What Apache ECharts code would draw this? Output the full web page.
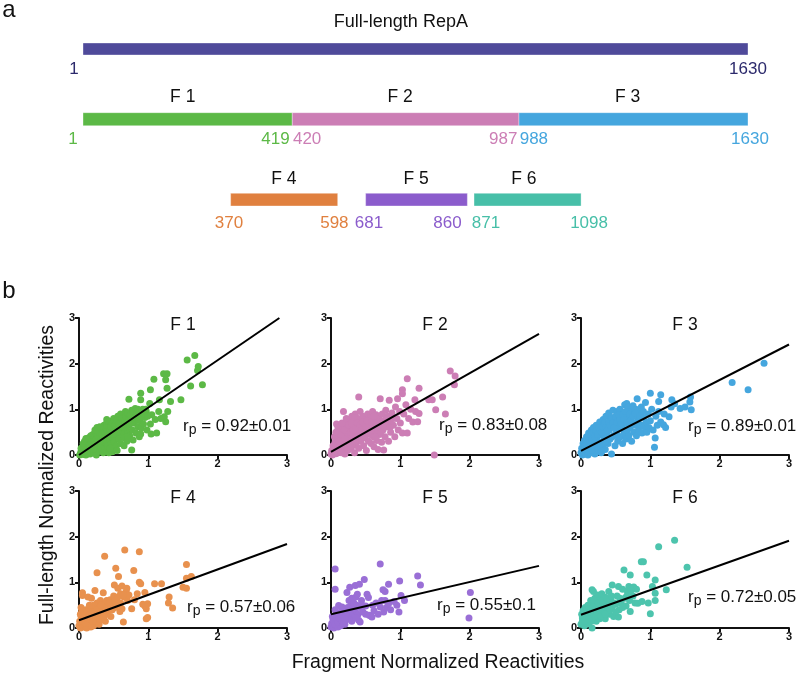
<!DOCTYPE html>
<html><head><meta charset="utf-8">
<script src="https://cdn.jsdelivr.net/npm/echarts@6/dist/echarts.min.js"></script>
<style>html,body{margin:0;padding:0;background:#fff}#c{width:800px;height:677px}</style>
</head><body><div id="c"></div>
<script>
// ---------- Panel a: fragment schematic ----------
var segNames = ['Full-length RepA', 'F 1', 'F 2', 'F 3', 'F 4', 'F 5', 'F 6'];
var segStartResidue = ['1', '1', '420', '988', '370', '681', '871'];
var segEndResidue = ['1630', '419', '987', '1630', '598', '860', '1098'];
var segRow = [0, 1, 1, 1, 2, 2, 2];
// schematic (not-to-scale) extents, in % of the full-length bar
var segDrawStart = [0, 0, 31.47, 65.56, 22.2, 42.5, 58.8];
var segDrawEnd = [100, 31.47, 65.56, 100, 38.3, 57.8, 74.9];
var segNamePos = [47.8, 15.0, 47.7, 81.9, 30.2, 50.1, 66.3];
var segStartLabelPos = [-1.35, -1.5, 33.7, 67.8, 21.95, 43.0, 60.6];
var segEndLabelPos = [100, 28.95, 63.2, 100.3, 37.8, 54.8, 76.1];
var segColors = ['#4f4a9a', '#5cb946', '#cc7eb5', '#45a6de', '#e0803f', '#8b5ccc', '#47bfa8'];
var segLabelColors = ['#2c2a6c', '#5cb946', '#cc7eb5', '#45a6de', '#e0803f', '#8b5ccc', '#47bfa8'];

// ---------- Panel b: scatter data (fragment vs full-length reactivities) ----------
var panelTitles = ['F 1', 'F 2', 'F 3', 'F 4', 'F 5', 'F 6'];
var panelRp = ['0.92±0.01', '0.83±0.08', '0.89±0.01', '0.57±0.06', '0.55±0.1', '0.72±0.05'];
var panelColors = ['#5cb946', '#cc7eb5', '#45a6de', '#e8914e', '#9a6fd6', '#4dc4ad'];
var axisTicks = [0, 1, 2, 3];

var f1Points = [[0.01,0.0],[0.02,0.03],[0.03,0.08],[0.04,0.02],[0.05,0.12],[0.05,0.05],[0.06,0.18],[0.07,0.01],[0.07,0.09],[0.08,0.22],[0.09,0.04],[0.09,0.14],[0.1,0.27],[0.1,0.0],[0.11,0.1],[0.12,0.19],[0.12,0.33],[0.13,0.06],[0.14,0.25],[0.14,0.38],[0.15,0.13],[0.16,0.02],[0.16,0.3],[0.17,0.2],[0.17,0.42],[0.18,0.08],[0.19,0.35],[0.19,0.15],[0.2,0.27],[0.2,0.45],
[0.21,0.05],[0.22,0.2],[0.22,0.38],[0.23,0.12],[0.24,0.3],[0.24,0.5],[0.25,0.0],[0.26,0.25],[0.26,0.43],[0.27,0.15],[0.28,0.35],[0.28,0.55],[0.29,0.08],[0.3,0.28],[0.3,0.47],[0.31,0.18],[0.32,0.4],[0.32,0.6],[0.33,0.1],[0.34,0.32],[0.34,0.52],[0.35,0.22],[0.36,0.45],[0.36,0.65],[0.37,0.15],[0.38,0.38],[0.38,0.57],[0.39,0.28],[0.4,0.5],[0.4,0.7],
[0.41,0.2],[0.42,0.42],[0.42,0.62],[0.43,0.05],[0.44,0.33],[0.44,0.55],[0.45,0.74],[0.46,0.25],[0.47,0.47],[0.47,0.66],[0.48,0.12],[0.49,0.38],[0.5,0.58],[0.5,0.8],[0.51,0.3],[0.52,0.5],[0.53,0.7],[0.54,0.2],[0.55,0.42],[0.55,0.62],[0.56,0.85],[0.57,0.35],[0.58,0.55],[0.59,0.75],[0.6,0.25],[0.6,0.9],
[0.62,0.47],[0.63,0.65],[0.64,0.82],[0.65,0.38],[0.66,0.58],[0.67,0.95],[0.68,0.72],[0.69,0.3],[0.7,0.52],[0.71,0.88],[0.72,0.65],[0.72,1.22],[0.73,0.42],[0.75,0.78],[0.76,0.98],[0.76,0.11],[0.77,0.55],[0.78,0.33],[0.79,0.9],[0.8,0.7],[0.81,1.02],[0.82,0.48],[0.84,0.82],[0.85,0.62],[0.86,0.95],[0.87,0.4],[0.88,0.75],[0.89,1.21],[0.89,1.35],[0.89,0.46],[0.9,0.59],[0.91,0.88],[0.92,1.0],[0.93,0.68],[0.95,0.82],[0.97,0.95],[0.98,0.55],
[1.02,1.13],[1.03,1.43],[1.03,0.68],[1.04,0.46],[1.05,0.88],[1.08,1.66],[1.1,0.78],[1.12,0.48],[1.15,0.95],[1.16,1.21],[1.18,0.8],[1.22,1.78],[1.23,0.84],[1.25,1.65],[1.25,0.73],[1.27,1.78],[1.27,1.46],[1.28,0.95],[1.32,1.17],[1.47,1.21],[1.56,2.08],[1.61,1.51],[1.67,2.18],[1.71,1.85],[1.72,1.94],[1.78,1.54],[0.48,0.07],
[0.03,0.15],[0.06,0.25],[0.08,0.3],[0.1,0.36],[0.12,0.05],[0.15,0.22],[0.18,0.28],[0.2,0.12],[0.22,0.3],[0.25,0.35],[0.27,0.42],[0.29,0.5],[0.31,0.3],[0.33,0.45],[0.35,0.55],[0.37,0.5],[0.39,0.6],[0.41,0.52],[0.43,0.45],[0.45,0.55],[0.46,0.62],[0.48,0.7],[0.5,0.45],[0.52,0.65],[0.54,0.75],[0.56,0.52],[0.58,0.68],[0.6,0.72],[0.62,0.8],[0.64,0.6],[0.66,0.75],[0.68,0.85],[0.7,0.92],[0.72,0.78],[0.74,0.88],[0.76,0.7],[0.78,0.95],[0.8,0.82],[0.83,0.9],[0.85,1.0],[0.87,0.85],[0.9,0.95],[0.93,0.9],[0.96,1.0],[0.99,0.85],[0.35,0.05],[0.45,0.15],[0.55,0.1],[0.65,0.2],[0.7,0.4],[0.23,0.55],[0.3,0.62],[0.4,0.78],[0.26,0.6]];

var f2Points = [[0.0,0.02],[0.01,0.1],[0.02,0.0],[0.03,0.2],[0.04,0.06],[0.05,0.15],[0.06,0.28],[0.07,0.03],[0.08,0.68],[0.08,0.12],[0.09,0.35],[0.1,0.22],[0.1,0.05],[0.11,0.42],[0.12,0.15],[0.13,0.3],[0.13,0.55],[0.14,0.08],[0.15,0.25],[0.15,0.62],[0.16,0.4],[0.17,0.12],[0.18,0.95],[0.18,0.5],[0.19,0.3],[0.2,0.7],[0.2,0.02],[0.21,0.2],[0.22,0.45],[0.23,0.6],[0.24,0.1],[0.25,0.35],[0.25,0.78],[0.26,0.52],[0.27,0.25],[0.28,0.65],[0.29,0.15],[0.3,0.42],[0.3,0.85],[0.31,0.58],[0.32,0.3],[0.33,0.72],[0.34,0.05],[0.35,0.48],[0.35,0.9],[0.36,0.22],[0.37,0.62],[0.38,0.38],[0.39,0.8],[0.4,1.27],[0.4,0.15],[0.41,0.55],[0.42,0.95],[0.43,0.3],[0.44,0.7],[0.45,0.45],[0.46,0.85],[0.47,0.2],[0.48,0.6],[0.49,0.38],[0.5,0.78],[0.51,0.1],[0.52,0.52],[0.53,0.9],[0.54,0.3],[0.55,0.68],[0.56,0.45],[0.57,0.82],[0.58,0.25],[0.59,0.6],[0.6,0.95],[0.61,0.4],[0.62,0.18],[0.63,0.72],[0.64,0.52],[0.65,0.88],[0.66,0.32],[0.67,0.62],[0.68,0.12],[0.69,0.8],[0.7,0.45],[0.71,1.23],[0.72,0.68],[0.73,0.28],[0.74,0.9],[0.75,0.55],[0.76,0.11],[0.77,0.75],[0.78,0.4],[0.79,0.98],[0.8,0.62],[0.82,0.85],[0.83,0.3],[0.84,1.2],[0.85,0.72],[0.86,0.5],[0.88,0.92],[0.9,0.65],[0.92,0.4],[0.93,1.05],[0.95,0.8],[0.96,1.23],[0.97,0.55],[0.99,0.95],[1.0,0.7],
[1.03,1.43],[1.03,1.34],[1.03,0.48],[1.05,0.9],[1.08,1.1],[1.1,1.67],[1.1,0.48],[1.12,0.8],[1.15,1.0],[1.18,0.72],[1.21,1.21],[1.22,0.95],[1.25,0.73],[1.27,1.46],[1.27,0.91],[1.41,1.21],[1.46,1.21],[1.49,0.0],[1.51,0.99],[1.61,1.27],[1.65,0.9],[1.72,1.84],[1.78,1.54],[1.79,1.73],
[0.05,0.4],[0.07,0.5],[0.1,0.6],[0.12,0.3],[0.14,0.45],[0.16,0.7],[0.18,0.2],[0.2,0.55],[0.22,0.8],[0.24,0.4],[0.26,0.65],[0.28,0.5],[0.3,0.7],[0.32,0.55],[0.34,0.82],[0.36,0.6],[0.38,0.7],[0.4,0.45],[0.42,0.65],[0.44,0.55],[0.46,0.72],[0.48,0.4],[0.5,0.62],[0.52,0.75],[0.54,0.5],[0.56,0.62],[0.58,0.72],[0.6,0.55],[0.62,0.85],[0.64,0.4],[0.66,0.7],[0.68,0.55],[0.7,0.65],[0.72,0.5],[0.75,0.75],[0.78,0.62],[0.8,0.8],[0.85,0.6],[0.9,0.8],[0.1,0.15],[0.2,0.35],[0.3,0.2],[0.4,0.35],[0.15,0.05],[0.25,0.12],[0.35,0.3]];

var f3Points = [[0.0,0.05],[0.01,0.15],[0.02,0.0],[0.03,0.25],[0.04,0.22],[0.04,0.08],[0.05,0.32],[0.06,0.02],[0.07,0.18],[0.08,0.4],[0.09,0.1],[0.1,0.28],[0.1,0.0],[0.11,0.48],[0.12,0.2],[0.13,0.35],[0.14,0.05],[0.15,0.55],[0.15,0.25],[0.16,0.42],[0.17,0.12],[0.18,0.6],[0.19,0.3],[0.2,0.02],[0.2,0.48],[0.21,0.2],[0.22,0.65],[0.23,0.38],[0.24,0.1],[0.25,0.55],[0.26,0.28],[0.27,0.72],[0.28,0.45],[0.29,0.05],[0.3,0.62],[0.31,0.2],[0.32,0.78],[0.33,0.38],[0.34,0.55],[0.35,0.12],[0.36,0.85],[0.37,0.45],[0.38,0.68],[0.39,0.25],[0.4,0.92],[0.41,0.55],[0.42,0.35],[0.43,0.78],[0.44,0.02],[0.45,0.62],[0.46,0.98],[0.47,0.42],[0.48,0.8],[0.49,0.2],[0.5,0.68],[0.51,0.5],[0.52,0.95],[0.53,0.3],[0.54,0.75],[0.55,0.58],[0.56,1.0],[0.57,0.4],[0.58,0.82],[0.59,0.62],[0.6,0.25],[0.61,0.92],[0.62,0.48],[0.63,1.1],[0.64,0.7],[0.65,0.35],[0.66,0.88],[0.66,1.13],[0.67,0.55],[0.68,1.05],[0.69,0.42],[0.7,0.78],[0.71,0.6],[0.72,0.95],[0.73,0.3],[0.74,0.68],[0.75,1.08],[0.76,0.5],[0.77,0.85],[0.78,0.65],[0.79,1.0],[0.8,0.42],[0.81,1.23],[0.82,0.75],[0.83,0.55],[0.84,0.92],[0.86,0.66],[0.87,1.05],[0.88,0.48],[0.9,0.82],[0.91,0.62],[0.93,1.15],[0.94,0.72],[0.95,0.5],[0.97,0.9],[0.98,0.6],
[1.0,1.35],[1.0,0.75],[1.02,1.0],[1.04,0.55],[1.06,0.17],[1.07,0.37],[1.08,0.85],[1.1,0.65],[1.12,1.17],[1.12,0.95],[1.15,1.32],[1.15,0.72],[1.19,0.66],[1.2,0.9],[1.22,0.6],[1.27,0.84],[1.3,1.05],[1.31,1.21],[1.35,1.12],[1.43,1.02],[1.5,1.05],[1.57,1.16],[1.58,1.27],[1.59,0.99],[2.18,1.59],[2.41,1.43],[2.64,2.01],
[0.02,0.12],[0.05,0.2],[0.08,0.25],[0.1,0.4],[0.12,0.32],[0.14,0.45],[0.16,0.35],[0.18,0.5],[0.2,0.4],[0.22,0.52],[0.24,0.45],[0.26,0.6],[0.28,0.55],[0.3,0.5],[0.32,0.62],[0.34,0.7],[0.36,0.6],[0.38,0.55],[0.4,0.72],[0.42,0.65],[0.44,0.82],[0.46,0.7],[0.48,0.6],[0.5,0.85],[0.52,0.72],[0.54,0.88],[0.56,0.78],[0.58,0.7],[0.6,0.88],[0.62,0.78],[0.64,0.95],[0.66,0.7],[0.7,0.9],[0.72,0.75],[0.75,0.85],[0.78,0.92],[0.8,0.7],[0.85,0.85],[0.9,0.95],[0.25,0.15],[0.35,0.3],[0.45,0.4],[0.55,0.4],[0.65,0.55],[0.15,0.1],[0.3,0.08]];

var f4Points = [[0.0,0.05],[0.01,0.15],[0.02,0.0],[0.03,0.25],[0.04,0.1],[0.05,0.77],[0.05,0.71],[0.05,0.2],[0.06,0.02],[0.07,0.35],[0.08,0.12],[0.09,0.05],[0.1,0.22],[0.1,0.4],[0.11,0.0],[0.12,0.15],[0.13,0.68],[0.13,0.3],[0.14,0.08],[0.15,0.25],[0.16,0.45],[0.17,0.02],[0.17,0.18],[0.18,0.65],[0.18,0.35],[0.19,0.1],[0.2,0.28],[0.21,0.5],[0.21,0.05],[0.22,0.2],[0.23,0.82],[0.23,0.38],[0.24,0.12],[0.25,0.3],[0.26,1.21],[0.26,0.55],[0.27,0.22],[0.28,0.42],[0.29,0.08],[0.3,0.33],[0.31,0.6],[0.32,0.18],[0.33,0.45],[0.35,0.77],[0.35,0.28],[0.36,0.52],[0.37,1.57],[0.38,0.15],[0.39,0.38],[0.4,0.6],[0.41,0.3],[0.42,0.48],[0.44,0.4],[0.45,0.62],[0.46,0.25],[0.48,0.55],[0.5,0.7],[0.51,0.94],[0.52,0.45],[0.53,1.31],[0.54,0.62],[0.56,0.87],[0.57,1.13],[0.57,0.5],[0.59,0.36],[0.6,0.75],[0.62,0.92],[0.62,0.42],[0.64,0.13],[0.65,0.68],[0.66,1.71],[0.68,0.8],[0.69,0.87],[0.7,0.6],[0.72,0.72],[0.76,0.42],[0.79,1.26],[0.8,0.62],[0.84,0.75],[0.87,1.67],[0.87,1.0],[0.89,0.97],[0.92,0.52],[0.95,0.78],[0.95,0.48],[0.97,0.42],[0.97,0.2],[0.99,0.53],[0.99,0.23],[1.09,0.97],[1.19,0.97],[1.29,0.55],[1.3,0.68],[1.35,0.44],[1.5,0.89],[1.55,0.87],[1.55,1.39],[1.55,1.09],[1.62,1.13],
[0.02,0.3],[0.04,0.4],[0.06,0.15],[0.08,0.28],[0.1,0.1],[0.12,0.35],[0.14,0.2],[0.16,0.3],[0.18,0.05],[0.2,0.15],[0.22,0.32],[0.24,0.25],[0.26,0.4],[0.28,0.3],[0.3,0.2],[0.32,0.5],[0.34,0.35],[0.36,0.25],[0.4,0.45],[0.44,0.55],[0.48,0.4],[0.52,0.6],[0.56,0.68],[0.6,0.55],[0.64,0.72],[0.03,0.45],[0.15,0.5]];

var f5Points = [[0.0,0.02],[0.01,0.1],[0.02,0.05],[0.03,0.18],[0.04,0.0],[0.05,0.12],[0.06,1.29],[0.06,0.85],[0.06,0.25],[0.07,0.06],[0.08,0.15],[0.09,0.32],[0.1,0.02],[0.1,0.2],[0.11,0.49],[0.12,0.1],[0.13,0.28],[0.14,0.05],[0.15,0.18],[0.16,0.46],[0.16,0.35],[0.17,0.12],[0.18,0.25],[0.19,0.4],[0.2,0.08],[0.21,0.3],[0.22,0.18],[0.23,0.78],[0.24,0.45],[0.25,0.28],[0.26,0.6],[0.27,0.89],[0.27,0.38],[0.28,0.2],[0.29,0.5],[0.3,0.65],[0.31,0.32],[0.32,0.45],[0.33,0.55],[0.34,0.25],[0.35,0.93],[0.35,0.4],[0.36,0.68],[0.37,0.5],[0.38,0.74],[0.39,0.3],[0.4,0.17],[0.41,0.96],[0.42,0.13],[0.42,0.45],[0.44,0.6],[0.46,0.35],[0.48,1.06],[0.5,0.48],[0.52,0.74],[0.54,0.67],[0.55,0.28],[0.57,0.27],[0.59,0.24],[0.6,0.5],[0.62,0.38],[0.65,0.55],[0.68,0.3],[0.71,1.4],[0.71,0.46],[0.73,0.6],[0.75,0.84],[0.76,0.35],[0.78,0.8],[0.78,0.6],[0.8,0.45],[0.83,0.96],[0.83,0.53],[0.86,0.4],[0.91,0.58],[0.95,0.5],[0.98,0.35],[0.99,1.03],[1.01,0.71],[1.06,0.6],[1.25,1.14],[1.29,0.94],[1.99,0.22],[2.01,0.78],
[0.02,0.25],[0.04,0.15],[0.06,0.08],[0.08,0.3],[0.1,0.12],[0.12,0.22],[0.14,0.35],[0.16,0.15],[0.18,0.1],[0.2,0.22],[0.22,0.35],[0.3,0.15],[0.36,0.22],[0.45,0.5],[0.5,0.3],[0.06,0.4]];

var f6Points = [[0.0,0.08],[0.01,0.3],[0.02,0.15],[0.03,0.38],[0.04,0.22],[0.05,0.05],[0.06,0.45],[0.06,0.28],[0.07,0.12],[0.08,0.35],[0.09,0.2],[0.1,0.5],[0.1,0.3],[0.11,0.1],[0.12,0.42],[0.13,0.25],[0.14,0.6],[0.15,0.35],[0.16,0.84],[0.16,0.0],[0.17,0.18],[0.18,0.8],[0.18,0.5],[0.19,0.28],[0.2,0.65],[0.21,0.4],[0.22,0.15],[0.23,0.55],[0.24,0.72],[0.25,0.3],[0.26,0.45],[0.27,0.2],[0.28,0.62],[0.29,0.38],[0.3,0.75],[0.31,0.25],[0.32,0.5],[0.33,0.35],[0.34,0.68],[0.35,0.2],[0.36,0.55],[0.38,0.42],[0.4,0.8],[0.41,0.3],[0.43,0.6],[0.45,0.94],[0.45,0.45],[0.47,0.25],[0.5,0.52],[0.52,0.7],[0.54,0.91],[0.54,0.24],[0.55,0.4],[0.58,0.55],[0.6,0.85],[0.62,1.27],[0.63,0.65],[0.65,0.48],[0.67,0.8],[0.69,0.91],[0.7,0.6],[0.71,1.16],[0.71,0.36],[0.73,0.88],[0.75,0.7],[0.76,0.9],[0.78,0.55],[0.8,0.85],[0.82,0.54],[0.87,1.45],[0.88,0.58],[0.9,1.45],[0.95,1.16],[0.97,0.55],[1.0,0.31],[1.03,0.91],[1.07,1.05],[1.07,0.76],[1.07,0.6],[1.12,1.78],[1.23,0.84],[1.35,1.92],[1.53,1.33],
[0.02,0.22],[0.04,0.35],[0.05,0.15],[0.07,0.25],[0.09,0.4],[0.11,0.2],[0.13,0.35],[0.15,0.15],[0.17,0.45],[0.19,0.6],[0.21,0.25],[0.23,0.35],[0.25,0.55],[0.27,0.42],[0.29,0.25],[0.31,0.6],[0.33,0.45],[0.35,0.3],[0.37,0.65],[0.39,0.5],[0.42,0.4],[0.44,0.7],[0.48,0.55],[0.5,0.35],[0.56,0.65],[0.6,0.45],[0.66,0.7],[0.72,0.82]];

var panelPoints = [f1Points, f2Points, f3Points, f4Points, f5Points, f6Points];
// regression line end points [x, y]
var fitStart = [[0, 0], [0, 0.07], [0, 0.09], [0, 0.17], [0, 0.3], [0, 0.29]];
var fitEnd = [[2.89, 3], [3, 2.65], [3, 2.42], [3, 1.84], [3, 1.36], [3, 1.91]];

var xAxisTitle = 'Fragment Normalized Reactivities';
var yAxisTitle = 'Full-length Normalized Reactivities';

// ---------- layout ----------
var FONT = '"Liberation Sans", Arial, Helvetica, sans-serif';
var rowGrids = [{top: 43, height: 12}, {top: 112.7, height: 13}, {top: 193.3, height: 12.7}];
var rowTitleGap = [21.3, 16, 14.3];
var rowNumGap = [14, 13.3, 17];
var panelLefts = [79, 331, 581, 79, 331, 581];
var panelTops = [318, 318, 318, 491, 491, 491];
var panelW = 208, panelH = 137;
var rpDx = [104, 108, 107, 108, 106, 107];
var rpDy = [108, 107, 108, 116.5, 114, 106];

var grids = [], xAxes = [], yAxes = [], series = [], graphics = [];

rowGrids.forEach(function (g, r) {
  grids.push({left: 83, width: 665, top: g.top, height: g.height});
  xAxes.push({gridIndex: r, type: 'value', min: 0, max: 100, show: false});
  yAxes.push({gridIndex: r, type: 'value', min: 0, max: 1, show: false});
  var data = [];
  for (var k = 0; k < segNames.length; k++) if (segRow[k] === r) data.push([segDrawStart[k], segDrawEnd[k], k]);
  series.push({
    type: 'custom', xAxisIndex: r, yAxisIndex: r, silent: true, clip: false,
    data: data,
    renderItem: function (params, api) {
      var k = api.value(2), row = segRow[k];
      var tl = api.coord([api.value(0), 1]);
      var br = api.coord([api.value(1), 0]);
      var nm = api.coord([segNamePos[k], 1]);
      var sp = api.coord([segStartLabelPos[k], 0]);
      var ep = api.coord([segEndLabelPos[k], 0]);
      return {type: 'group', children: [
        {type: 'rect', shape: {x: tl[0], y: tl[1], width: br[0] - tl[0], height: br[1] - tl[1]},
          style: {fill: segColors[k], stroke: 'rgba(255,255,255,0.35)', lineWidth: 1}},
        {type: 'text', x: nm[0], y: nm[1] - rowTitleGap[row],
          style: {text: segNames[k], fill: '#111', font: (k === 0 ? '18px ' : '17.5px ') + FONT, align: 'center', verticalAlign: 'middle'}},
        {type: 'text', x: sp[0], y: sp[1] + rowNumGap[row],
          style: {text: segStartResidue[k], fill: segLabelColors[k], font: '17px ' + FONT, align: 'center', verticalAlign: 'middle'}},
        {type: 'text', x: ep[0], y: ep[1] + rowNumGap[row],
          style: {text: segEndResidue[k], fill: segLabelColors[k], font: '17px ' + FONT, align: 'center', verticalAlign: 'middle'}}
      ]};
    }
  });
});

for (var p = 0; p < 6; p++) {
  var gi = grids.length;
  grids.push({left: panelLefts[p], top: panelTops[p], width: panelW, height: panelH});
  var axisCommon = {
    gridIndex: gi, type: 'value', min: axisTicks[0], max: axisTicks[axisTicks.length - 1], interval: 1,
    axisLine: {show: true, onZero: false, lineStyle: {color: '#111', width: 2}},
    axisTick: {show: true, length: 4, lineStyle: {color: '#111', width: 2}},
    splitLine: {show: false},
    axisLabel: {color: '#111', fontSize: 11, fontWeight: 'bold', fontFamily: FONT}
  };
  xAxes.push(Object.assign({}, axisCommon, {axisLabel: Object.assign({}, axisCommon.axisLabel, {margin: 3})}));
  yAxes.push(Object.assign({}, axisCommon, {axisLabel: Object.assign({}, axisCommon.axisLabel, {margin: 4})}));
  series.push({
    type: 'scatter', xAxisIndex: gi, yAxisIndex: gi, data: panelPoints[p], symbolSize: 7, silent: true,
    itemStyle: {color: panelColors[p], opacity: 1}, z: 2
  });
  series.push({
    type: 'line', xAxisIndex: gi, yAxisIndex: gi, data: [fitStart[p], fitEnd[p]], symbol: 'none', silent: true,
    lineStyle: {color: '#000', width: 2}, z: 3
  });
  graphics.push({type: 'text', x: panelLefts[p] + 104, y: panelTops[p] + 7.5, z: 10,
    style: {text: panelTitles[p], fill: '#111', font: '17.5px ' + FONT, align: 'center', verticalAlign: 'middle', textAlign: 'center', textVerticalAlign: 'middle'}});
  graphics.push({type: 'text', x: panelLefts[p] + rpDx[p], y: panelTops[p] + rpDy[p], z: 10,
    style: {text: '{r|r}{s|p}{n| = ' + panelRp[p] + '}', align: 'left', verticalAlign: 'middle', textAlign: 'left', textVerticalAlign: 'middle',
      fill: '#111', font: '17px ' + FONT,
      rich: {
        r: {fontSize: 17, fontFamily: FONT, fill: '#111', lineHeight: 22},
        s: {fontSize: 14, fontFamily: FONT, fill: '#111', lineHeight: 22, verticalAlign: 'bottom'},
        n: {fontSize: 17, fontFamily: FONT, fill: '#111', lineHeight: 22}
      }}});
}

graphics.push({type: 'text', x: 9, y: 10, style: {text: 'a', fill: '#111', font: '24px ' + FONT, align: 'center', verticalAlign: 'middle', textAlign: 'center', textVerticalAlign: 'middle'}});
graphics.push({type: 'text', x: 9, y: 291, style: {text: 'b', fill: '#111', font: '24px ' + FONT, align: 'center', verticalAlign: 'middle', textAlign: 'center', textVerticalAlign: 'middle'}});
graphics.push({type: 'text', x: 438, y: 663, style: {text: xAxisTitle, fill: '#111', font: '19.5px ' + FONT, align: 'center', verticalAlign: 'middle', textAlign: 'center', textVerticalAlign: 'middle'}});
graphics.push({type: 'text', x: 48, y: 475, rotation: Math.PI / 2, style: {text: yAxisTitle, fill: '#111', font: '19.5px ' + FONT, align: 'center', verticalAlign: 'middle', textAlign: 'center', textVerticalAlign: 'middle'}});

var chart = echarts.init(document.getElementById('c'), null, {renderer: 'canvas'});
chart.setOption({
  backgroundColor: '#fff',
  animation: false,
  grid: grids, xAxis: xAxes, yAxis: yAxes, series: series, graphic: graphics
});
</script></body></html>
